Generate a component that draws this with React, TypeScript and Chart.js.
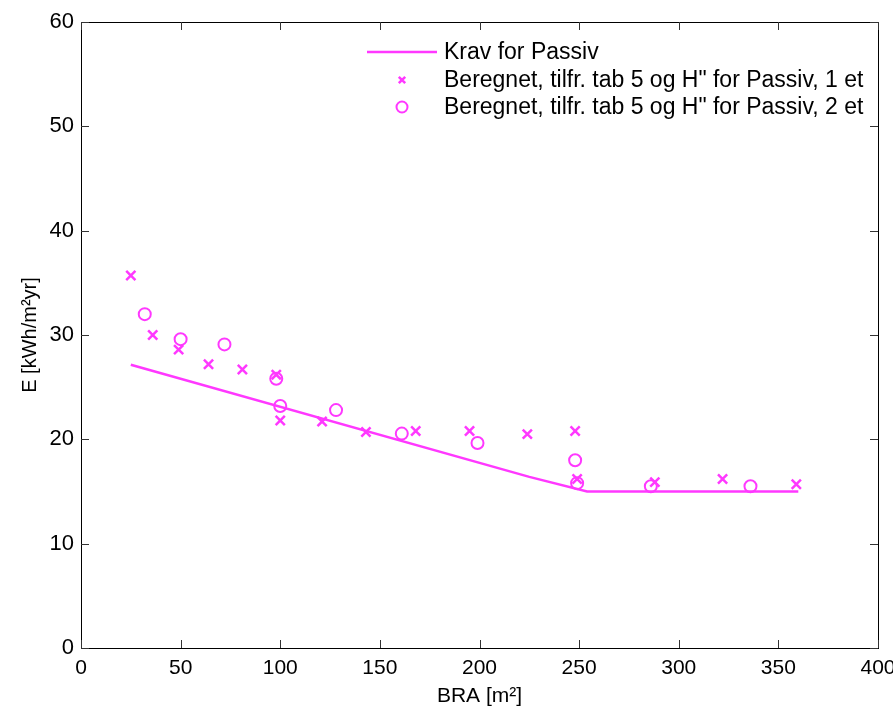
import React, { useEffect, useRef } from "react";
import { Chart, registerables } from "chart.js";

Chart.register(...registerables);

// Requirement line (Krav for Passiv)
const reqBRA = [25, 225, 254, 360];
const reqE = [27.15, 16.4, 15.0, 15.0];

// Beregnet, 1 et (x markers)
const bra1 = [25, 36, 49, 64, 81, 98, 100, 121, 143, 168, 195, 224, 248, 249, 288, 322, 359];
const e1 = [35.7, 30.0, 28.6, 27.2, 26.7, 26.2, 21.8, 21.7, 20.7, 20.8, 20.8, 20.5, 20.8, 16.2, 15.9, 16.2, 15.7];

// Beregnet, 2 et (circles)
const bra2 = [32, 50, 72, 98, 100, 128, 161, 199, 248, 249, 286, 336];
const e2 = [32.0, 29.6, 29.1, 25.8, 23.2, 22.8, 20.55, 19.65, 18.0, 15.8, 15.5, 15.5];

const labels = [
  "Krav for Passiv",
  "Beregnet, tilfr. tab 5 og H\" for Passiv, 1 et",
  "Beregnet, tilfr. tab 5 og H\" for Passiv, 2 et",
];

const xTicks = [0, 50, 100, 150, 200, 250, 300, 350, 400];
const yTicks = [0, 10, 20, 30, 40, 50, 60];

const MAG = "#ff38ff";
const FONT = "'Liberation Sans', Arial, Helvetica, sans-serif";

const boxPlugin = {
  id: "matlabBox",
  afterDraw(chart: any) {
    const { ctx, chartArea: a, scales } = chart;
    ctx.save();
    ctx.strokeStyle = "#000";
    ctx.lineWidth = 1;
    ctx.strokeRect(Math.round(a.left) + 0.5, Math.round(a.top) + 0.5, Math.round(a.right - a.left), Math.round(a.bottom - a.top));
    ctx.strokeStyle = "#333";
    const tl = 8;
    ctx.beginPath();
    xTicks.forEach((v) => {
      const px = Math.round(scales.x.getPixelForValue(v)) + 0.5;
      ctx.moveTo(px, a.bottom);
      ctx.lineTo(px, a.bottom - tl);
      ctx.moveTo(px, a.top);
      ctx.lineTo(px, a.top + tl);
    });
    yTicks.forEach((v) => {
      const py = Math.round(scales.y.getPixelForValue(v)) + 0.5;
      ctx.moveTo(a.left, py);
      ctx.lineTo(a.left + tl, py);
      ctx.moveTo(a.right, py);
      ctx.lineTo(a.right - tl, py);
    });
    ctx.stroke();

    // legend
    const lx = 444;
    const rows = [52, 80, 107];
    ctx.font = `23px ${FONT}`;
    ctx.fillStyle = "#000";
    ctx.textBaseline = "middle";
    ctx.textAlign = "left";
    chart.data.datasets.forEach((ds: any, i: number) => {
      const y = rows[i];
      ctx.fillText(ds.label, lx, y + 1);
      ctx.strokeStyle = ds.borderColor;
      ctx.lineWidth = 2.5;
      ctx.beginPath();
      if (i === 0) {
        ctx.moveTo(367, y);
        ctx.lineTo(437, y);
      } else if (i === 1) {
        const r = 3.2;
        ctx.moveTo(402 - r, y - r);
        ctx.lineTo(402 + r, y + r);
        ctx.moveTo(402 - r, y + r);
        ctx.lineTo(402 + r, y - r);
      } else {
        ctx.lineWidth = 2;
        ctx.arc(402, y, 5.5, 0, Math.PI * 2);
      }
      ctx.stroke();
    });
    ctx.restore();
  },
};

export default function App() {
  const ref = useRef<HTMLCanvasElement | null>(null);
  useEffect(() => {
    if (!ref.current) return;
    const chart = new Chart(ref.current, {
      type: "scatter",
      data: {
        datasets: [
          {
            label: labels[0],
            data: reqBRA.map((x, i) => ({ x, y: reqE[i] })),
            showLine: true,
            borderColor: MAG,
            backgroundColor: MAG,
            borderWidth: 2.5,
            pointRadius: 0,
            tension: 0,
          },
          {
            label: labels[1],
            data: bra1.map((x, i) => ({ x, y: e1[i] })),
            showLine: false,
            borderColor: MAG,
            backgroundColor: MAG,
            pointStyle: "crossRot",
            pointRadius: 6.5,
            pointBorderWidth: 2.5,
          },
          {
            label: labels[2],
            data: bra2.map((x, i) => ({ x, y: e2[i] })),
            showLine: false,
            borderColor: MAG,
            backgroundColor: "rgba(0,0,0,0)",
            pointStyle: "circle",
            pointRadius: 6,
            pointBorderWidth: 2,
          },
        ],
      },
      options: {
        animation: false,
        responsive: false,
        devicePixelRatio: 1,
        layout: { padding: { top: 22, right: 15, left: 0, bottom: 0 } },
        plugins: { legend: { display: false }, tooltip: { enabled: false } },
        scales: {
          x: {
            type: "linear",
            min: 0,
            max: 400,
            afterBuildTicks: (s: any) => {
              s.ticks = xTicks.map((v) => ({ value: v }));
            },
            afterFit: (s: any) => {
              s.height = 66;
              s.paddingLeft = 0;
              s.paddingRight = 0;
            },
            grid: { display: false, drawTicks: false, tickLength: 0 },
            border: { display: false },
            ticks: { color: "#000", padding: 8, maxRotation: 0, font: { family: FONT, size: 21 } },
            title: { display: true, text: "BRA [m²]", color: "#000", padding: { top: 0, bottom: 5 }, font: { family: FONT, size: 21 } },
          },
          y: {
            type: "linear",
            min: 0,
            max: 60,
            afterBuildTicks: (s: any) => {
              s.ticks = yTicks.map((v) => ({ value: v }));
            },
            afterFit: (s: any) => {
              s.width = 81;
              s.paddingTop = 0;
              s.paddingBottom = 0;
            },
            grid: { display: false, drawTicks: false, tickLength: 0 },
            border: { display: false },
            ticks: { color: "#000", padding: 7, font: { family: FONT, size: 22 } },
            title: { display: true, text: "E [kWh/m²yr]", color: "#000", padding: { top: 18, bottom: 0 }, font: { family: FONT, size: 20 } },
          },
        },
      },
      plugins: [boxPlugin],
    } as any);
    return () => chart.destroy();
  }, []);
  return (
    <div style={{ position: "fixed", left: 0, top: 0, width: 893, height: 714, background: "#fff" }}>
      <canvas ref={ref} width={893} height={714} />
    </div>
  );
}
